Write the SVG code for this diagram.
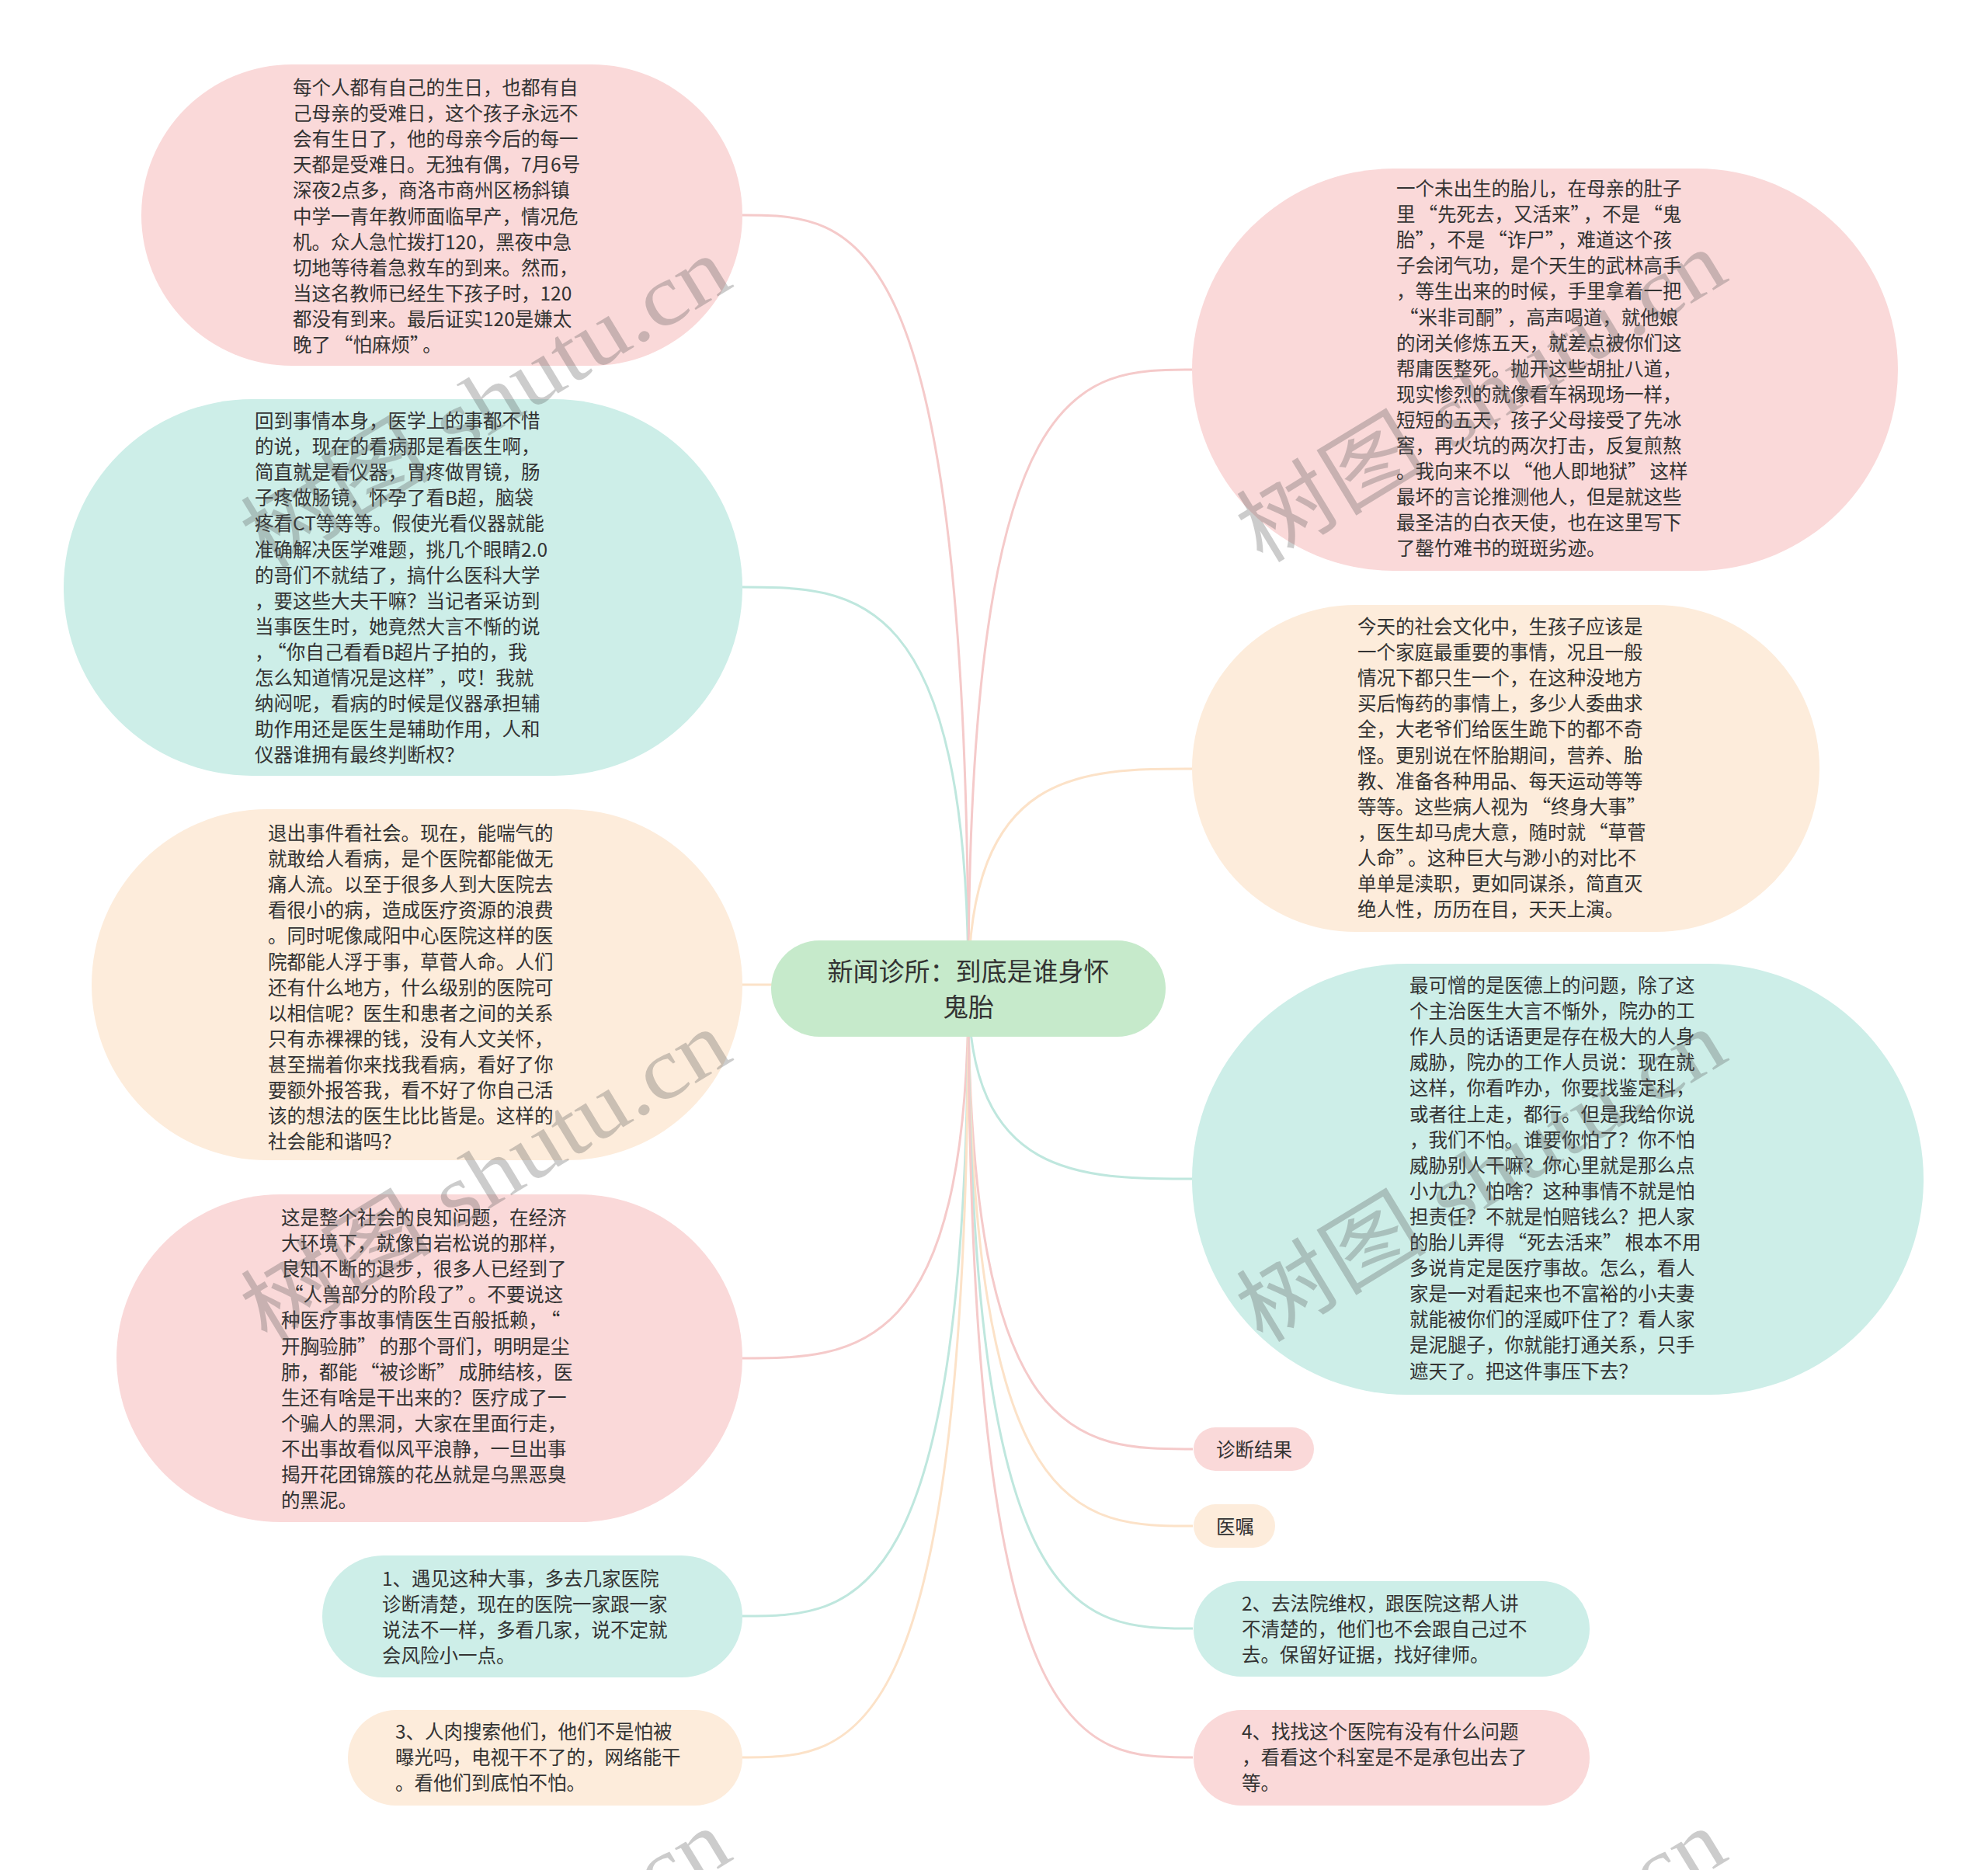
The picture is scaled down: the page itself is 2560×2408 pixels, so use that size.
<svg xmlns="http://www.w3.org/2000/svg" width="2560" height="2408" viewBox="0 0 2560 2408">
<style>
.t{font-family:"Noto Sans CJK SC","Noto Sans",sans-serif;font-size:24.5px;fill:#333}
.qc{letter-spacing:4px}
.ct{font-family:"Noto Sans CJK SC","Noto Sans",sans-serif;font-size:33px;fill:#333;text-anchor:middle}
.pk{fill:#fad9d9}.tl{fill:#cdeee8}.or{fill:#fdecdb}.gr{fill:#c6eacb}
.lk{fill:none;stroke-width:3}
.lpk{stroke:#f5caca}.ltl{stroke:#bfe7de}.lor{stroke:#fce2c8}
.wm{font-family:"Liberation Serif","Noto Sans CJK SC",serif;font-size:112px;fill:#555;fill-opacity:0.3}
</style>
<rect width="2560" height="2408" fill="#fff"/>
<g id="connectors">
<path class="lk lpk" d="M1247 1273 C1247 277 1101 277 956 277"/>
<path class="lk ltl" d="M1247 1273 C1247 756 1101 756 956 756"/>
<path class="lk lor" d="M1247 1273 C1247 1268 1101 1268 956 1268"/>
<path class="lk lpk" d="M1247 1273 C1247 1749 1101 1749 956 1749"/>
<path class="lk ltl" d="M1247 1273 C1247 2081 1101 2081 956 2081"/>
<path class="lk lor" d="M1247 1273 C1247 2263 1101 2263 956 2263"/>
<path class="lk lpk" d="M1247 1273 C1247 476 1391 476 1536 476"/>
<path class="lk lor" d="M1247 1273 C1247 990 1391 990 1536 990"/>
<path class="lk ltl" d="M1247 1273 C1247 1518 1391 1518 1536 1518"/>
<path class="lk lpk" d="M1247 1273 C1247 1866 1391 1866 1536 1866"/>
<path class="lk lor" d="M1247 1273 C1247 1965 1391 1965 1536 1965"/>
<path class="lk ltl" d="M1247 1273 C1247 2097 1391 2097 1536 2097"/>
<path class="lk lpk" d="M1247 1273 C1247 2263 1391 2263 1536 2263"/>
</g>
<g id="center">
<rect class="gr" x="993" y="1211" width="508" height="124" rx="62"/>
<text class="ct" x="1247" y="1263">新闻诊所：到底是谁身怀</text>
<text class="ct" x="1247" y="1309">鬼胎</text>
</g>
<g id="n1">
<rect class="pk" x="182" y="83" width="774" height="388" rx="194"/>
<text class="t" x="377" y="122"><tspan x="377">每个人都有自己的生日，也都有自</tspan><tspan x="377" dy="33.1">己母亲的受难日，这个孩子永远不</tspan><tspan x="377" dy="33.1">会有生日了，他的母亲今后的每一</tspan><tspan x="377" dy="33.1">天都是受难日。无独有偶，7月6号</tspan><tspan x="377" dy="33.1">深夜2点多，商洛市商州区杨斜镇</tspan><tspan x="377" dy="33.1">中学一青年教师面临早产，情况危</tspan><tspan x="377" dy="33.1">机。众人急忙拨打120，黑夜中急</tspan><tspan x="377" dy="33.1">切地等待着急救车的到来。然而，</tspan><tspan x="377" dy="33.1">当这名教师已经生下孩子时，120</tspan><tspan x="377" dy="33.1">都没有到来。最后证实120是嫌太</tspan><tspan x="377" dy="33.1">晚了<tspan dx="4">“</tspan>怕麻烦<tspan class="qc">”</tspan>。</tspan></text>
</g>
<g id="n2">
<rect class="tl" x="82" y="514" width="874" height="485" rx="242.5"/>
<text class="t" x="328" y="551"><tspan x="328">回到事情本身，医学上的事都不惜</tspan><tspan x="328" dy="33.1">的说，现在的看病那是看医生啊，</tspan><tspan x="328" dy="33.1">简直就是看仪器，胃疼做胃镜，肠</tspan><tspan x="328" dy="33.1">子疼做肠镜，怀孕了看B超，脑袋</tspan><tspan x="328" dy="33.1">疼看CT等等等。假使光看仪器就能</tspan><tspan x="328" dy="33.1">准确解决医学难题，挑几个眼睛2.0</tspan><tspan x="328" dy="33.1">的哥们不就结了，搞什么医科大学</tspan><tspan x="328" dy="33.1">，要这些大夫干嘛？当记者采访到</tspan><tspan x="328" dy="33.1">当事医生时，她竟然大言不惭的说</tspan><tspan x="328" dy="33.1">，<tspan dx="4">“</tspan>你自己看看B超片子拍的，我</tspan><tspan x="328" dy="33.1">怎么知道情况是这样<tspan class="qc">”</tspan>，哎！我就</tspan><tspan x="328" dy="33.1">纳闷呢，看病的时候是仪器承担辅</tspan><tspan x="328" dy="33.1">助作用还是医生是辅助作用，人和</tspan><tspan x="328" dy="33.1">仪器谁拥有最终判断权？</tspan></text>
</g>
<g id="n3">
<rect class="or" x="118" y="1042" width="838" height="452" rx="226"/>
<text class="t" x="345" y="1082"><tspan x="345">退出事件看社会。现在，能喘气的</tspan><tspan x="345" dy="33.1">就敢给人看病，是个医院都能做无</tspan><tspan x="345" dy="33.1">痛人流。以至于很多人到大医院去</tspan><tspan x="345" dy="33.1">看很小的病，造成医疗资源的浪费</tspan><tspan x="345" dy="33.1">。同时呢像咸阳中心医院这样的医</tspan><tspan x="345" dy="33.1">院都能人浮于事，草菅人命。人们</tspan><tspan x="345" dy="33.1">还有什么地方，什么级别的医院可</tspan><tspan x="345" dy="33.1">以相信呢？医生和患者之间的关系</tspan><tspan x="345" dy="33.1">只有赤裸裸的钱，没有人文关怀，</tspan><tspan x="345" dy="33.1">甚至揣着你来找我看病，看好了你</tspan><tspan x="345" dy="33.1">要额外报答我，看不好了你自己活</tspan><tspan x="345" dy="33.1">该的想法的医生比比皆是。这样的</tspan><tspan x="345" dy="33.1">社会能和谐吗？</tspan></text>
</g>
<g id="n4">
<rect class="pk" x="150" y="1538" width="806" height="422" rx="211"/>
<text class="t" x="362" y="1577"><tspan x="362">这是整个社会的良知问题，在经济</tspan><tspan x="362" dy="33.1">大环境下，就像白岩松说的那样，</tspan><tspan x="362" dy="33.1">良知不断的退步，很多人已经到了</tspan><tspan x="362" dy="33.1"><tspan dx="4">“</tspan>人兽部分的阶段了<tspan class="qc">”</tspan>。不要说这</tspan><tspan x="362" dy="33.1">种医疗事故事情医生百般抵赖，<tspan dx="4">“</tspan></tspan><tspan x="362" dy="33.1">开胸验肺<tspan class="qc">”</tspan>的那个哥们，明明是尘</tspan><tspan x="362" dy="33.1">肺，都能<tspan dx="4">“</tspan>被诊断<tspan class="qc">”</tspan>成肺结核，医</tspan><tspan x="362" dy="33.1">生还有啥是干出来的？医疗成了一</tspan><tspan x="362" dy="33.1">个骗人的黑洞，大家在里面行走，</tspan><tspan x="362" dy="33.1">不出事故看似风平浪静，一旦出事</tspan><tspan x="362" dy="33.1">揭开花团锦簇的花丛就是乌黑恶臭</tspan><tspan x="362" dy="33.1">的黑泥。</tspan></text>
</g>
<g id="n5">
<rect class="tl" x="415" y="2003" width="541" height="157" rx="78.5"/>
<text class="t" x="492" y="2042"><tspan x="492">1、遇见这种大事，多去几家医院</tspan><tspan x="492" dy="33.1">诊断清楚，现在的医院一家跟一家</tspan><tspan x="492" dy="33.1">说法不一样，多看几家，说不定就</tspan><tspan x="492" dy="33.1">会风险小一点。</tspan></text>
</g>
<g id="n6">
<rect class="or" x="448" y="2202" width="508" height="123" rx="61.5"/>
<text class="t" x="509" y="2239"><tspan x="509">3、人肉搜索他们，他们不是怕被</tspan><tspan x="509" dy="33.1">曝光吗，电视干不了的，网络能干</tspan><tspan x="509" dy="33.1">。看他们到底怕不怕。</tspan></text>
</g>
<g id="r1">
<rect class="pk" x="1535" y="217" width="909" height="518" rx="259"/>
<text class="t" x="1798" y="252"><tspan x="1798">一个未出生的胎儿，在母亲的肚子</tspan><tspan x="1798" dy="33.1">里<tspan dx="4">“</tspan>先死去，又活来<tspan class="qc">”</tspan>，不是<tspan dx="4">“</tspan>鬼</tspan><tspan x="1798" dy="33.1">胎<tspan class="qc">”</tspan>，不是<tspan dx="4">“</tspan>诈尸<tspan class="qc">”</tspan>，难道这个孩</tspan><tspan x="1798" dy="33.1">子会闭气功，是个天生的武林高手</tspan><tspan x="1798" dy="33.1">，等生出来的时候，手里拿着一把</tspan><tspan x="1798" dy="33.1"><tspan dx="4">“</tspan>米非司酮<tspan class="qc">”</tspan>，高声喝道，就他娘</tspan><tspan x="1798" dy="33.1">的闭关修炼五天，就差点被你们这</tspan><tspan x="1798" dy="33.1">帮庸医整死。抛开这些胡扯八道，</tspan><tspan x="1798" dy="33.1">现实惨烈的就像看车祸现场一样，</tspan><tspan x="1798" dy="33.1">短短的五天，孩子父母接受了先冰</tspan><tspan x="1798" dy="33.1">窖，再火坑的两次打击，反复煎熬</tspan><tspan x="1798" dy="33.1">。我向来不以<tspan dx="4">“</tspan>他人即地狱<tspan class="qc">”</tspan>这样</tspan><tspan x="1798" dy="33.1">最坏的言论推测他人，但是就这些</tspan><tspan x="1798" dy="33.1">最圣洁的白衣天使，也在这里写下</tspan><tspan x="1798" dy="33.1">了罄竹难书的斑斑劣迹。</tspan></text>
</g>
<g id="r2">
<rect class="or" x="1535" y="779" width="808" height="421" rx="210.5"/>
<text class="t" x="1748" y="816"><tspan x="1748">今天的社会文化中，生孩子应该是</tspan><tspan x="1748" dy="33.1">一个家庭最重要的事情，况且一般</tspan><tspan x="1748" dy="33.1">情况下都只生一个，在这种没地方</tspan><tspan x="1748" dy="33.1">买后悔药的事情上，多少人委曲求</tspan><tspan x="1748" dy="33.1">全，大老爷们给医生跪下的都不奇</tspan><tspan x="1748" dy="33.1">怪。更别说在怀胎期间，营养、胎</tspan><tspan x="1748" dy="33.1">教、准备各种用品、每天运动等等</tspan><tspan x="1748" dy="33.1">等等。这些病人视为<tspan dx="4">“</tspan>终身大事<tspan class="qc">”</tspan></tspan><tspan x="1748" dy="33.1">，医生却马虎大意，随时就<tspan dx="4">“</tspan>草菅</tspan><tspan x="1748" dy="33.1">人命<tspan class="qc">”</tspan>。这种巨大与渺小的对比不</tspan><tspan x="1748" dy="33.1">单单是渎职，更如同谋杀，简直灭</tspan><tspan x="1748" dy="33.1">绝人性，历历在目，天天上演。</tspan></text>
</g>
<g id="r3">
<rect class="tl" x="1535" y="1241" width="942" height="555" rx="277.5"/>
<text class="t" x="1815" y="1278"><tspan x="1815">最可憎的是医德上的问题，除了这</tspan><tspan x="1815" dy="33.1">个主治医生大言不惭外，院办的工</tspan><tspan x="1815" dy="33.1">作人员的话语更是存在极大的人身</tspan><tspan x="1815" dy="33.1">威胁，院办的工作人员说：现在就</tspan><tspan x="1815" dy="33.1">这样，你看咋办，你要找鉴定科，</tspan><tspan x="1815" dy="33.1">或者往上走，都行。但是我给你说</tspan><tspan x="1815" dy="33.1">，我们不怕。谁要你怕了？你不怕</tspan><tspan x="1815" dy="33.1">威胁别人干嘛？你心里就是那么点</tspan><tspan x="1815" dy="33.1">小九九？怕啥？这种事情不就是怕</tspan><tspan x="1815" dy="33.1">担责任？不就是怕赔钱么？把人家</tspan><tspan x="1815" dy="33.1">的胎儿弄得<tspan dx="4">“</tspan>死去活来<tspan class="qc">”</tspan>根本不用</tspan><tspan x="1815" dy="33.1">多说肯定是医疗事故。怎么，看人</tspan><tspan x="1815" dy="33.1">家是一对看起来也不富裕的小夫妻</tspan><tspan x="1815" dy="33.1">就能被你们的淫威吓住了？看人家</tspan><tspan x="1815" dy="33.1">是泥腿子，你就能打通关系，只手</tspan><tspan x="1815" dy="33.1">遮天了。把这件事压下去？</tspan></text>
</g>
<g id="r4">
<rect class="pk" x="1537" y="1838" width="155" height="56" rx="28"/>
<text class="t" x="1566" y="1876">诊断结果</text>
</g>
<g id="r5">
<rect class="or" x="1537" y="1937" width="105" height="56" rx="28"/>
<text class="t" x="1566" y="1975">医嘱</text>
</g>
<g id="r6">
<rect class="tl" x="1537" y="2036" width="510" height="123" rx="61.5"/>
<text class="t" x="1599" y="2074"><tspan x="1599">2、去法院维权，跟医院这帮人讲</tspan><tspan x="1599" dy="33.1">不清楚的，他们也不会跟自己过不</tspan><tspan x="1599" dy="33.1">去。保留好证据，找好律师。</tspan></text>
</g>
<g id="r7">
<rect class="pk" x="1537" y="2202" width="510" height="123" rx="61.5"/>
<text class="t" x="1599" y="2239"><tspan x="1599">4、找找这个医院有没有什么问题</tspan><tspan x="1599" dy="33.1">，看看这个科室是不是承包出去了</tspan><tspan x="1599" dy="33.1">等。</tspan></text>
</g>
<g id="watermark">
<text class="wm" transform="translate(343 735) rotate(-31.3)" textLength="707" lengthAdjust="spacingAndGlyphs">树图 shutu.cn</text>
<text class="wm" transform="translate(1625 727) rotate(-31.3)" textLength="707" lengthAdjust="spacingAndGlyphs">树图 shutu.cn</text>
<text class="wm" transform="translate(343 1731) rotate(-31.3)" textLength="707" lengthAdjust="spacingAndGlyphs">树图 shutu.cn</text>
<text class="wm" transform="translate(1625 1731) rotate(-31.3)" textLength="707" lengthAdjust="spacingAndGlyphs">树图 shutu.cn</text>
<text class="wm" transform="translate(343 2760) rotate(-31.3)" textLength="707" lengthAdjust="spacingAndGlyphs">树图 shutu.cn</text>
<text class="wm" transform="translate(1625 2760) rotate(-31.3)" textLength="707" lengthAdjust="spacingAndGlyphs">树图 shutu.cn</text>
</g>
</svg>
